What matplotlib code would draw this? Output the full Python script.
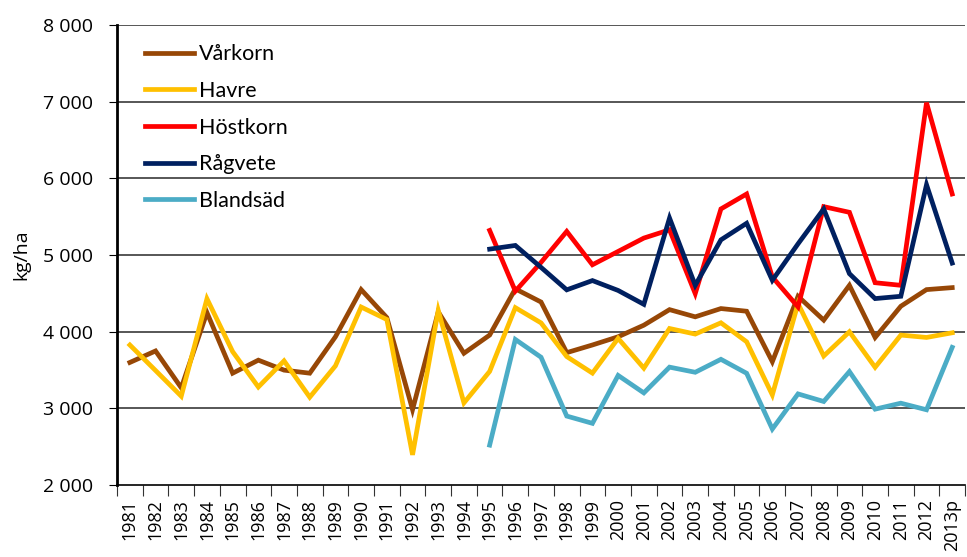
import matplotlib
matplotlib.use("Agg")
import matplotlib.pyplot as plt
import numpy as np

years = ["1981", "1982", "1983", "1984", "1985", "1986", "1987", "1988", "1989", "1990",
         "1991", "1992", "1993", "1994", "1995", "1996", "1997", "1998", "1999", "2000",
         "2001", "2002", "2003", "2004", "2005", "2006", "2007", "2008", "2009", "2010",
         "2011", "2012", "2013p"]

varkorn = [3600, 3750, 3270, 4250, 3460, 3630, 3500, 3460, 3935, 4550,
           4185, 2985, 4260, 3720, 3957, 4560, 4388, 3728, 3828, 3935,
           4086, 4289, 4195, 4303, 4268, 3610, 4463, 4152, 4606, 3926,
           4333, 4550, 4576]
havre = [3828, 3495, 3160, 4431, 3741, 3280, 3621, 3147, 3556, 4323,
         4160, 2395, 4280, 3073, 3483, 4315, 4116, 3677, 3461, 3914,
         3526, 4043, 3970, 4117, 3870, 3177, 4368, 3684, 4000, 3537,
         3957, 3926, 3987]
nan = np.nan
hostkorn = [nan] * 14 + [5322, 4530, 4905, 5309, 4874, 5048, 5222, 5330, 4498, 5602,
                         5797, 4714, 4325, 5632, 5558, 4640, 4606, 6987, 5797]
ragvete = [nan] * 14 + [5078, 5126, 4840, 4547, 4668, 4539, 4358, 5483, 4606, 5199,
                        5415, 4671, 5147, 5602, 4758, 4433, 4463, 5918, 4896]
blandsad = [nan] * 14 + [2522, 3900, 3668, 2901, 2806, 3431, 3203, 3539, 3472, 3641,
                         3459, 2732, 3190, 3091, 3481, 2991, 3069, 2983, 3797]

series = [("Vårkorn", varkorn, "#974706"),
          ("Havre", havre, "#FFC000"),
          ("Höstkorn", hostkorn, "#FF0000"),
          ("Rågvete", ragvete, "#002060"),
          ("Blandsäd", blandsad, "#4BACC6")]

yticks = [2000, 3000, 4000, 5000, 6000, 7000, 8000]
ytick_labels = ["2 000", "3 000", "4 000", "5 000", "6 000", "7 000", "8 000"]

plt.rcParams['font.family'] = ['Open Sans', 'DejaVu Sans']

fig = plt.figure(figsize=(9.67, 5.57), dpi=100)
ax = fig.add_axes([0.121, 0.129, 0.877, 0.826])

x = np.arange(len(years))
for name, vals, col in series:
    ax.plot(x, vals, color=col, lw=3.4, label=name, solid_joinstyle='miter')

ax.set_xlim(-0.5, len(years) - 0.5)
ax.set_ylim(2000, 8000)
ax.set_yticks(yticks)
ax.set_yticklabels(ytick_labels, fontsize=14)
for yv in yticks[1:]:
    ax.axhline(yv, color="#3a3a3a", lw=1.2, zorder=0)

ax.set_xticks(x)
ax.set_xticklabels(years, rotation=90, fontsize=13)
ax.tick_params(axis='x', which='major', length=0, pad=10)
ax.set_xticks(np.arange(-0.5, len(years), 1), minor=True)
ax.tick_params(axis='x', which='minor', length=8, width=0.8, color='#333333', direction='out')
ax.tick_params(axis='y', length=6, width=0.8, direction='out', pad=11.5)

for s in ["top", "right"]:
    ax.spines[s].set_visible(False)
ax.spines["left"].set_linewidth(2)
ax.spines["bottom"].set_linewidth(1.2)

ax.set_ylabel("kg/ha", fontsize=14, labelpad=9)

leg = ax.legend(loc="upper left", bbox_to_anchor=(0.01, 1.0), frameon=False,
                prop={'family': ['Lato', 'DejaVu Sans'], 'size': 15.5},
                handlelength=2.3, handletextpad=0.2, labelspacing=0.77,
                borderaxespad=0.5)

fig.savefig("out.png", dpi=100)
